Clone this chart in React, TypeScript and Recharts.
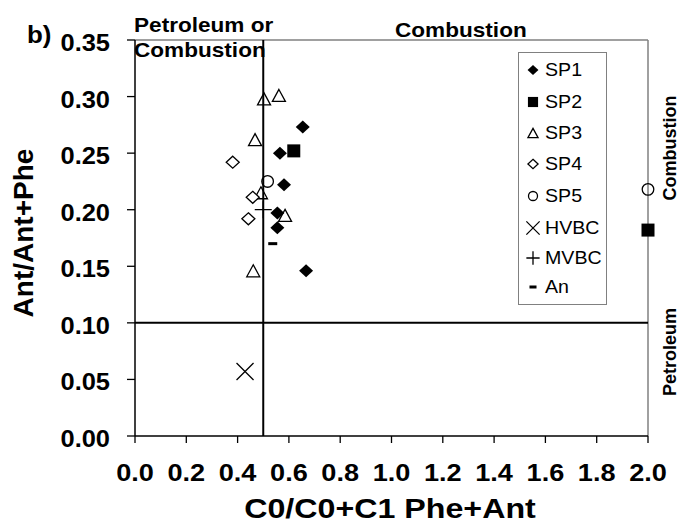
import React from "react";
import {
  ScatterChart,
  Scatter,
  XAxis,
  YAxis,
  ReferenceLine,
  Legend,
} from "recharts";

// values
const SP1 = [
  { x: 0.654, y: 0.273 },
  { x: 0.565, y: 0.25 },
  { x: 0.581, y: 0.222 },
  { x: 0.555, y: 0.197 },
  { x: 0.555, y: 0.184 },
  { x: 0.667, y: 0.146 },
];
const SP2 = [
  { x: 0.619, y: 0.252 },
  { x: 2.0, y: 0.182 },
];
const SP3 = [
  { x: 0.503, y: 0.298 },
  { x: 0.561, y: 0.301 },
  { x: 0.468, y: 0.262 },
  { x: 0.491, y: 0.215 },
  { x: 0.585, y: 0.195 },
  { x: 0.461, y: 0.146 },
];
const SP4 = [
  { x: 0.381, y: 0.242 },
  { x: 0.459, y: 0.211 },
  { x: 0.442, y: 0.192 },
];
const SP5 = [
  { x: 0.517, y: 0.225 },
  { x: 2.0, y: 0.218 },
];
const HVBC = [{ x: 0.429, y: 0.057 }];
const MVBC = [{ x: 0.5, y: 0.2 }];
const AN = [{ x: 0.537, y: 0.17 }];

const xTicks = [0, 0.2, 0.4, 0.6, 0.8, 1.0, 1.2, 1.4, 1.6, 1.8, 2.0];
const yTicks = [0, 0.05, 0.1, 0.15, 0.2, 0.25, 0.3, 0.35];

const FONT = "Arial, 'Liberation Sans', sans-serif";
const SX = 1.13;
const GRAY = "#808080";

type Kind = "dfill" | "sq" | "tri" | "dopen" | "circ" | "cross" | "plus" | "dash";

const series: { name: string; data: { x: number; y: number }[]; kind: Kind }[] = [
  { name: "SP1", data: SP1, kind: "dfill" },
  { name: "SP2", data: SP2, kind: "sq" },
  { name: "SP3", data: SP3, kind: "tri" },
  { name: "SP4", data: SP4, kind: "dopen" },
  { name: "SP5", data: SP5, kind: "circ" },
  { name: "HVBC", data: HVBC, kind: "cross" },
  { name: "MVBC", data: MVBC, kind: "plus" },
  { name: "An", data: AN, kind: "dash" },
];

const Marker = ({ kind, cx, cy, s = 1 }: { kind: Kind; cx: number; cy: number; s?: number }) => {
  const sw = 1.3;
  switch (kind) {
    case "dfill": {
      const w = 7 * s, h = 6.5 * s;
      return <polygon points={`${cx},${cy - h} ${cx + w},${cy} ${cx},${cy + h} ${cx - w},${cy}`} fill="#000" />;
    }
    case "dopen": {
      const w = 6.5 * s, h = 6 * s;
      return (
        <polygon
          points={`${cx},${cy - h} ${cx + w},${cy} ${cx},${cy + h} ${cx - w},${cy}`}
          fill="#fff"
          stroke="#000"
          strokeWidth={sw}
        />
      );
    }
    case "sq": {
      const a = 6.5 * s;
      return <rect x={cx - a} y={cy - a} width={2 * a} height={2 * a} fill="#000" />;
    }
    case "tri": {
      const w = 6.5 * s, h = 6 * s;
      return (
        <polygon
          points={`${cx},${cy - h} ${cx + w},${cy + h} ${cx - w},${cy + h}`}
          fill="none"
          stroke="#000"
          strokeWidth={sw}
        />
      );
    }
    case "circ":
      return <circle cx={cx} cy={cy} r={5.8 * s} fill="none" stroke="#000" strokeWidth={sw} />;
    case "cross": {
      const a = 8.5 * s;
      return (
        <path
          d={`M${cx - a},${cy - a}L${cx + a},${cy + a}M${cx - a},${cy + a}L${cx + a},${cy - a}`}
          stroke="#000"
          strokeWidth={sw}
        />
      );
    }
    case "plus": {
      const a = 8.5 * s;
      return (
        <path d={`M${cx - a},${cy}L${cx + a},${cy}M${cx},${cy - a}L${cx},${cy + a}`} stroke="#000" strokeWidth={sw} />
      );
    }
    case "dash":
      return <rect x={cx - 4.5 * s} y={cy - 1.5} width={9 * s} height={3} fill="#000" />;
  }
  return null;
};

const XTick = (p: any) => (
  <text
    transform={`translate(${p.x},${p.y + 38}) scale(${SX},1)`}
    textAnchor="middle"
    fontSize={24}
    fontWeight="bold"
    fontFamily={FONT}
    fill="#000"
  >
    {Number(p.payload.value).toFixed(1)}
  </text>
);

const YTick = (p: any) => (
  <text
    transform={`translate(110,${p.y + 11}) scale(1.06,1)`}
    textAnchor="end"
    fontSize={24}
    fontWeight="bold"
    fontFamily={FONT}
    fill="#000"
  >
    {Number(p.payload.value).toFixed(2)}
  </text>
);

const legendRows = [23, 55, 86, 117, 149, 181, 211, 240];

const LegendBox = () => (
  <div
    style={{
      width: 89,
      height: 253,
      border: `1px solid ${GRAY}`,
      boxSizing: "border-box",
      background: "#fff",
    }}
  >
    <svg width={87} height={251}>
      {series.map((s, i) => (
        <g key={s.name}>
          <Marker kind={s.kind} cx={14} cy={legendRows[i] - 6} s={0.78} />
          <text
            transform={`translate(26,${legendRows[i]}) scale(1.09,1)`}
            fontSize={18}
            fontFamily={FONT}
            fill="#000"
          >
            {s.name}
          </text>
        </g>
      ))}
    </svg>
  </div>
);

const Bold = ({ x, y, size, children, sx = SX, anchor = "start" }: any) => (
  <text
    transform={`translate(${x},${y}) scale(${sx},1)`}
    textAnchor={anchor}
    fontSize={size}
    fontWeight="bold"
    fontFamily={FONT}
    fill="#000"
  >
    {children}
  </text>
);

const App = () => {
  return (
    <div style={{ position: "absolute", left: 0, top: 0, width: 679, height: 525, background: "#fff" }}>
      <ScatterChart width={679} height={525} margin={{ top: 40, right: 31, bottom: 0, left: 0 }}>
        <XAxis
          type="number"
          dataKey="x"
          domain={[0, 2]}
          ticks={xTicks}
          height={89}
          tickSize={7}
          tickMargin={0}
          tick={<XTick />}
          axisLine={{ stroke: "#000", strokeWidth: 1.5 }}
          tickLine={{ stroke: "#000", strokeWidth: 1.3 }}
          allowDecimals
        />
        <YAxis
          type="number"
          dataKey="y"
          domain={[0, 0.35]}
          ticks={yTicks}
          width={135}
          tickSize={8}
          tickMargin={0}
          tick={<YTick />}
          axisLine={{ stroke: "#000", strokeWidth: 1.5 }}
          tickLine={{ stroke: "#000", strokeWidth: 1.3 }}
        />
        <ReferenceLine y={0.35} stroke={GRAY} strokeWidth={1.5} />
        <ReferenceLine x={2.0} stroke={GRAY} strokeWidth={1.5} />
        <ReferenceLine y={0.1} stroke="#000" strokeWidth={2} />
        <ReferenceLine x={0.5} stroke="#000" strokeWidth={2} />
        {series.map((s) => (
          <Scatter
            key={s.name}
            name={s.name}
            data={s.data}
            isAnimationActive={false}
            shape={(p: any) => <Marker kind={s.kind} cx={p.cx} cy={p.cy} />}
          />
        ))}
        <Legend
          layout="vertical"
          align="center"
          verticalAlign="middle"
          content={() => <LegendBox />}
          wrapperStyle={{ left: 518, top: 52, width: 89, height: 253 }}
        />
      </ScatterChart>
      <svg
        width={679}
        height={525}
        style={{ position: "absolute", left: 0, top: 0, pointerEvents: "none" }}
      >
        <Bold x={27} y={43} size={24} sx={1.08}>b)</Bold>
        <Bold x={134} y={32} size={20}>Petroleum or</Bold>
        <Bold x={134} y={57} size={20}>Combustion</Bold>
        <Bold x={395} y={37} size={20}>Combustion</Bold>
        <g transform="translate(676,148) rotate(-90)">
          <Bold x={0} y={0} size={18} sx={1} anchor="middle">Combustion</Bold>
        </g>
        <g transform="translate(676,352) rotate(-90)">
          <Bold x={0} y={0} size={18} sx={1} anchor="middle">Petroleum</Bold>
        </g>
        <g transform="translate(33,233) rotate(-90)">
          <Bold x={0} y={0} size={28} sx={1} anchor="middle">Ant/Ant+Phe</Bold>
        </g>
        <Bold x={390} y={518} size={28} sx={1.15} anchor="middle">C0/C0+C1 Phe+Ant</Bold>
      </svg>
    </div>
  );
};

export default App;
